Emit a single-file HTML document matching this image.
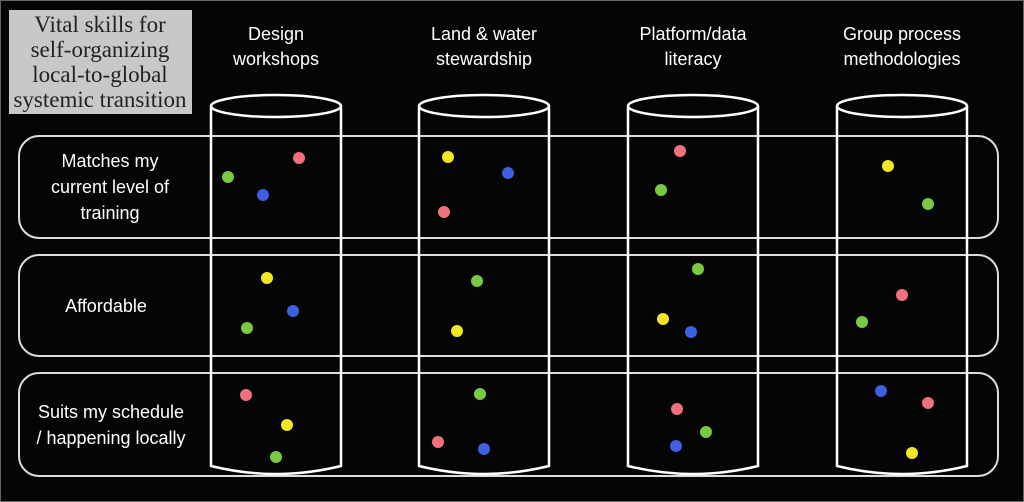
<!DOCTYPE html>
<html><head><meta charset="utf-8"><style>
html,body{margin:0;padding:0;background:#050505;}
svg{display:block;}
text{font-family:"Liberation Sans","DejaVu Sans",sans-serif;fill:#fff;}
</style></head><body>
<svg width="1024" height="502" viewBox="0 0 1024 502" xmlns="http://www.w3.org/2000/svg">
<rect x="0" y="0" width="1024" height="502" fill="#050505"/>
<rect x="0.5" y="0.5" width="1023" height="501" fill="none" stroke="#666" stroke-width="1"/>
<rect x="9" y="10" width="183" height="104" fill="#c8c8c8"/>
<g font-size="23" text-anchor="middle">
<text x="100" y="32" style="fill:#222;font-family:'Liberation Serif',serif">Vital skills for</text>
<text x="100" y="57" style="fill:#222;font-family:'Liberation Serif',serif">self-organizing</text>
<text x="100" y="82" style="fill:#222;font-family:'Liberation Serif',serif">local-to-global</text>
<text x="100" y="107" style="fill:#222;font-family:'Liberation Serif',serif">systemic transition</text>
</g>
<g font-size="18" text-anchor="middle">
<text x="276" y="40">Design</text><text x="276" y="65">workshops</text>
<text x="484" y="40">Land &amp; water</text><text x="484" y="65">stewardship</text>
<text x="693" y="40">Platform/data</text><text x="693" y="65">literacy</text>
<text x="902" y="40">Group process</text><text x="902" y="65">methodologies</text>
<text x="110" y="167">Matches my</text><text x="110" y="193">current level of</text><text x="110" y="219">training</text>
<text x="106" y="312">Affordable</text>
<text x="111" y="418">Suits my schedule</text><text x="111" y="444">/ happening locally</text>
</g>
<g fill="none" stroke="#ddd" stroke-width="2">
<rect x="19" y="136" width="979" height="102" rx="20"/>
<rect x="19" y="255" width="979" height="101" rx="20"/>
<rect x="19" y="373" width="979" height="103" rx="20"/>
</g>
<g fill="none" stroke="#fff" stroke-width="2.5">
<g id="c">
<ellipse cx="276" cy="106" rx="65" ry="11"/>
<path d="M211 106 V466 Q276 482 341 466 V106"/>
</g>
<use href="#c" x="208"/>
<use href="#c" x="417"/>
<use href="#c" x="626"/>
</g>
<g>
<circle cx="299" cy="158" r="6" fill="#f0707e"/><circle cx="228" cy="177" r="6" fill="#7ac943"/><circle cx="263" cy="195" r="6" fill="#3d5fe0"/>
<circle cx="267" cy="278" r="6" fill="#f5e625"/><circle cx="293" cy="311" r="6" fill="#3d5fe0"/><circle cx="247" cy="328" r="6" fill="#7ac943"/>
<circle cx="246" cy="395" r="6" fill="#f0707e"/><circle cx="287" cy="425" r="6" fill="#f5e625"/><circle cx="276" cy="457" r="6" fill="#7ac943"/>
<circle cx="448" cy="157" r="6" fill="#f5e625"/><circle cx="508" cy="173" r="6" fill="#3d5fe0"/><circle cx="444" cy="212" r="6" fill="#f0707e"/>
<circle cx="477" cy="281" r="6" fill="#7ac943"/><circle cx="457" cy="331" r="6" fill="#f5e625"/>
<circle cx="480" cy="394" r="6" fill="#7ac943"/><circle cx="438" cy="442" r="6" fill="#f0707e"/><circle cx="484" cy="449" r="6" fill="#3d5fe0"/>
<circle cx="680" cy="151" r="6" fill="#f0707e"/><circle cx="661" cy="190" r="6" fill="#7ac943"/>
<circle cx="698" cy="269" r="6" fill="#7ac943"/><circle cx="663" cy="319" r="6" fill="#f5e625"/><circle cx="691" cy="332" r="6" fill="#3d5fe0"/>
<circle cx="677" cy="409" r="6" fill="#f0707e"/><circle cx="706" cy="432" r="6" fill="#7ac943"/><circle cx="676" cy="446" r="6" fill="#3d5fe0"/>
<circle cx="888" cy="166" r="6" fill="#f5e625"/><circle cx="928" cy="204" r="6" fill="#7ac943"/>
<circle cx="902" cy="295" r="6" fill="#f0707e"/><circle cx="862" cy="322" r="6" fill="#7ac943"/>
<circle cx="881" cy="391" r="6" fill="#3d5fe0"/><circle cx="928" cy="403" r="6" fill="#f0707e"/><circle cx="912" cy="453" r="6" fill="#f5e625"/>
</g>
</svg>
</body></html>
